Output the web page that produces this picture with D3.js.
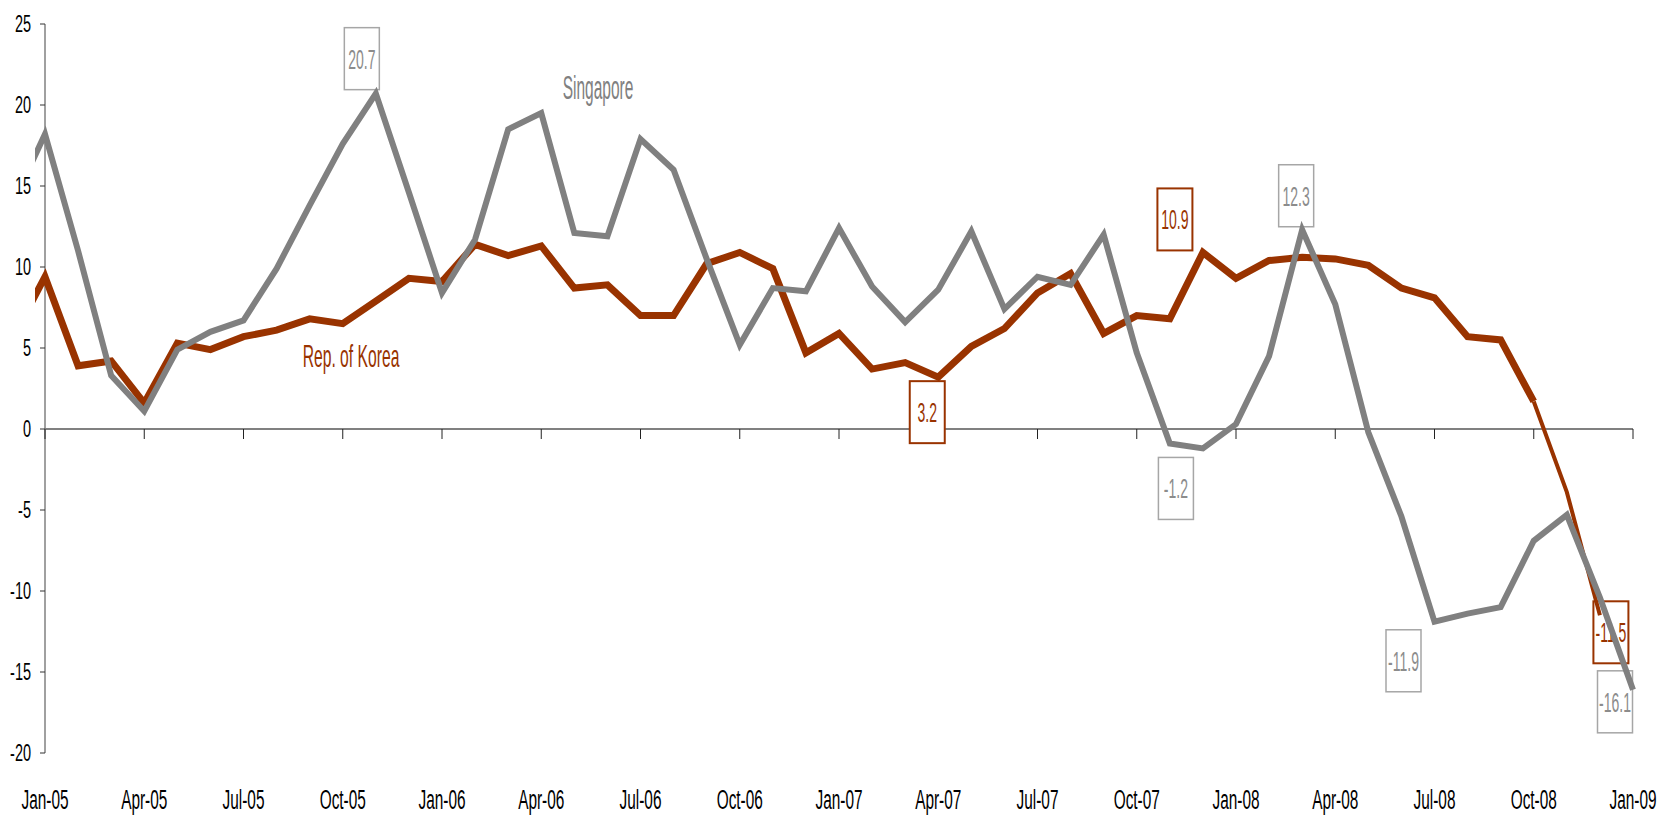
<!DOCTYPE html>
<html>
<head>
<meta charset="utf-8">
<script src="https://cdn.jsdelivr.net/npm/d3@7"></script>
<style>
  html, body { margin: 0; padding: 0; background: #fff; }
  svg { display: block; }
  text { font-family: "Liberation Sans", Arial, sans-serif; }
</style>
</head>
<body>
<div id="chart"></div>
<script>
// months run from Dec-04 (index -1) to Jan-09 (index 48)
var firstMonth = -1;
var korea = [5.5, 9.4, 3.9, 4.2, 1.6, 5.3, 4.9, 5.7, 6.1, 6.8, 6.5, 7.9, 9.3,
  9.1, 11.4, 10.7, 11.3, 8.7, 8.9, 7.0, 7.0, 10.2, 10.9, 9.9, 4.7,
  5.9, 3.7, 4.1, 3.2, 5.1, 6.2, 8.4, 9.6, 5.9, 7.0, 6.8, 10.9,
  9.3, 10.4, 10.6, 10.5, 10.1, 8.7, 8.1, 5.7, 5.5, 1.7, -3.9, -11.5,
  null];
var singapore = [13.8, 18.2, 11.0, 3.3, 1.1, 4.9, 6.0, 6.7, 9.9, 13.8, 17.6, 20.7, 14.6,
  8.4, 11.7, 18.5, 19.5, 12.1, 11.9, 17.9, 16.0, 10.5, 5.2, 8.7, 8.5,
  12.4, 8.8, 6.6, 8.6, 12.2, 7.4, 9.4, 8.9, 12.0, 4.7, -0.9, -1.2,
  0.3, 4.5, 12.3, 7.7, -0.2, -5.4, -11.9, -11.4, -11.0, -6.9, -5.3, -10.4,
  -16.1];
var tickLabels = ['Jan-05', 'Apr-05', 'Jul-05', 'Oct-05', 'Jan-06', 'Apr-06', 'Jul-06', 'Oct-06',
  'Jan-07', 'Apr-07', 'Jul-07', 'Oct-07', 'Jan-08', 'Apr-08', 'Jul-08', 'Oct-08', 'Jan-09'];
var yTicks = [-20, -15, -10, -5, 0, 5, 10, 15, 20, 25];

// which points get a boxed value (array position) and where the box sits
var sgLabelPos = [11, 36, 39, 43, 49];
var sgLabelOff = [[-14, -35], [-27, 40], [-6, -34], [-31, 39], [-18, 12]];
var krLabelPos = [28, 36, 48];
var krLabelOff = [[-11, 35], [-28, -33], [11, 17]];

var W = 1669, H = 817;
var red = '#993300', grey = '#808080';

var svg = d3.select('#chart').append('svg')
    .attr('width', W)
    .attr('height', H);

var x = d3.scaleLinear().domain([0, 48]).range([45, 1633]);
var y = d3.scaleLinear().domain([-20, 25]).range([753, 24]);

svg.append('clipPath').attr('id', 'plot')
  .append('rect')
    .attr('x', 35).attr('y', 0)
    .attr('width', 1669 - 35).attr('height', H);

// squeezed text, like the narrow font of the original
function narrow(sel, cx, cy, txt, size, sx, anchor, color) {
  return sel.append('text')
    .attr('transform', 'translate(' + cx + ',' + cy + ') scale(' + sx + ',1)')
    .attr('text-anchor', anchor)
    .attr('font-size', size)
    .attr('fill', color)
    .text(txt);
}

// y axis
svg.append('line')
    .attr('x1', 45).attr('x2', 45)
    .attr('y1', y(25)).attr('y2', y(-20))
    .attr('stroke', grey).attr('stroke-width', 1.5);
yTicks.forEach(function (v) {
  svg.append('line')
      .attr('x1', 40).attr('x2', 45)
      .attr('y1', y(v)).attr('y2', y(v))
      .attr('stroke', '#333').attr('stroke-width', 1);
  narrow(svg, 31, y(v) + 8, String(v), 23, 0.63, 'end', '#000');
});

// x axis on zero line, labels at the bottom
svg.append('line')
    .attr('x1', x(0)).attr('x2', x(48))
    .attr('y1', y(0)).attr('y2', y(0))
    .attr('stroke', grey).attr('stroke-width', 2);
tickLabels.forEach(function (t, i) {
  svg.append('line')
      .attr('x1', x(i * 3)).attr('x2', x(i * 3))
      .attr('y1', y(0)).attr('y2', y(0) + 10)
      .attr('stroke', '#222').attr('stroke-width', 1);
  narrow(svg, x(i * 3), 809, t, 28, 0.55, 'middle', '#000');
});

// boxed values (sit under the lines, as in the original)
function boxes(data, pos, off, stroke, sw, color) {
  pos.forEach(function (p, k) {
    var cx = x(p + firstMonth) + off[k][0];
    var cy = y(data[p]) + off[k][1];
    svg.append('rect')
        .attr('x', cx - 17.5).attr('y', cy - 31)
        .attr('width', 35).attr('height', 62)
        .attr('fill', '#fff')
        .attr('stroke', stroke).attr('stroke-width', sw);
    narrow(svg, cx, cy + 10, String(data[p]), 28, 0.5, 'middle', color);
  });
}
boxes(singapore, sgLabelPos, sgLabelOff, '#a6a6a6', 1.5, '#8c8c8c');
boxes(korea, krLabelPos, krLabelOff, red, 2, red);

var line = d3.line()
    .defined(function (d) { return d != null; })
    .x(function (d, i) { return x(i + firstMonth); })
    .y(function (d) { return y(d); });

var lines = svg.append('g').attr('clip-path', 'url(#plot)');

// Korea: thick, the last months thinner as in the original
var krHead = korea.map(function (d, i) { return i <= 46 ? d : null; });
var krTail = korea.map(function (d, i) { return i >= 46 ? d : null; });
lines.append('path')
    .attr('d', line(krHead))
    .attr('fill', 'none').attr('stroke', red)
    .attr('stroke-width', 7).attr('stroke-linejoin', 'miter');
lines.append('path')
    .attr('d', line(krTail))
    .attr('fill', 'none').attr('stroke', red)
    .attr('stroke-width', 4);

lines.append('path')
    .attr('d', line(singapore))
    .attr('fill', 'none').attr('stroke', grey)
    .attr('stroke-width', 6).attr('stroke-linejoin', 'miter');

// series names
narrow(svg, 598, 99, 'Singapore', 33, 0.47, 'middle', grey);
narrow(svg, 351, 367, 'Rep. of Korea', 32, 0.49, 'middle', red);
</script>
</body>
</html>
